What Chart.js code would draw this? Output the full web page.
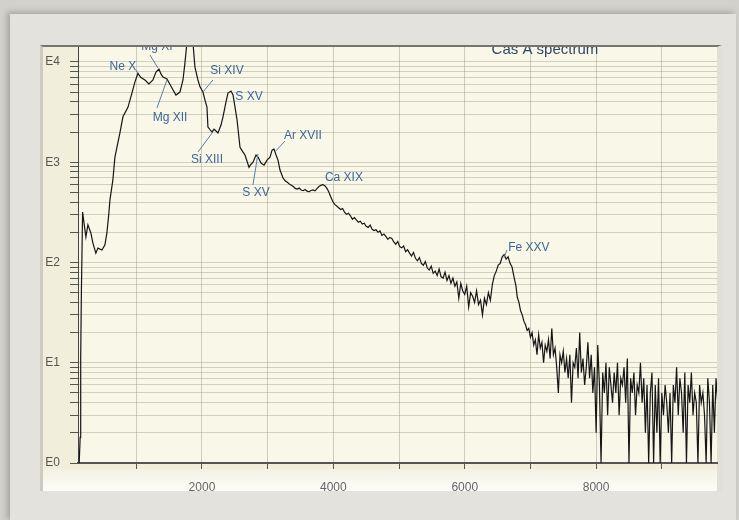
<!DOCTYPE html>
<html>
<head>
<meta charset="utf-8">
<script src="https://cdn.jsdelivr.net/npm/chart.js@4/dist/chart.umd.min.js"></script>
<style>
html,body{margin:0;padding:0;width:739px;height:520px;overflow:hidden;background:#d3d1cb;}
#outer{position:absolute;left:10px;top:14px;width:726px;height:508px;background:#e4e2dc;box-shadow:-3px -2px 6px rgba(0,0,0,0.22);}
#panel{position:absolute;left:40px;top:45px;width:682px;height:446px;box-sizing:border-box;background:#f1efdc;border-top:2px solid #76746d;border-left:3px solid #cdcbc0;border-right:5px solid #e2e0d6;}
#bottom{position:absolute;left:43px;top:469px;width:674px;height:22px;background:linear-gradient(#f3f1e2,#fdfdf9);}
#c{position:absolute;left:0;top:0;}
</style>
</head>
<body>
<div id="outer"></div>
<div id="panel"></div>
<div id="bottom"></div>
<canvas id="c" width="739" height="520"></canvas>
<script>
// ---- Data (energy in eV, counts) ----
// Low-energy band, read point by point: [energy, counts]
const lowBand = [
  [131,1],[146,1.8],[154,11],[165,53],[183,318],[203,253],[233,180],[264,237],[309,197],[340,156],
  [385,124],[416,139],[477,133],[522,149],[553,197],[583,311],[599,419],[644,667],[675,1125],[751,1960],
  [797,2840],[873,3530],[934,4880],[979,6300],[1025,7700],[1071,7000],[1132,6610],[1193,6030],[1254,6610],[1300,7940],
  [1345,8510],[1376,7600],[1406,7080],[1467,6750],[1543,5500],[1604,4680],[1665,5010],[1711,6610],[1741,9800],[1771,15500],
  [1820,30000],[1863,15500],[1893,8900],[1939,6610],[1970,5650],[2015,5010],[2046,4170],[2076,3540],[2091,2240],[2153,2000],
  [2183,2140],[2214,2050],[2244,1960],[2290,2350],[2320,2840],[2366,3990],[2396,4900],[2442,5130],[2473,4680],[2503,3540],
  [2534,2640],[2579,1410],[2625,1260],[2655,1180],[2716,890],[2747,955],[2777,1000],[2823,1180],[2853,1125],[2899,980],
  [2945,935],[2990,1050],[3036,1125],[3067,1320],[3097,1350],[3128,1180],[3157,1050],[3188,835],[3234,695],[3270,650]
];

// Mid band: channels of 30 eV starting at 3300 eV
const midStart = 3300;
const midStep = 30;
const midCounts = [
  630,605,590,572,548,540,552,528,520,534,
  515,508,522,530,518,545,572,588,596,584,
  552,508,452,408,380,366,352,338,345,318,
  302,310,292,270,280,266,252,258,242,246,
  230,224,236,214,208,212,200,206,186,192,
  182,170,178,174,160,152,162,144,140,146,
  128,134,124,116,126,110,104,112,98,94,
  102,88,84,92,78,82,74,86,72,70,
  80,66,74,62,70,58,64,44,62,52,
  48,58,36,50,46,40,52,38,42,30,
  44,38,50,42,60,74,82,94,98,114,
  120,108,114,98,90,72,58
];

// High band: channels of 25 eV starting at 6800 eV
const highStart = 6800;
const highStep = 25;
const highCounts = [
  45,40,33,30,26,24,21,22,18,20,
  15,17,12,19,14,16,10,15,13,17,
  11,22,12,14,9,5,12,10,13,8,
  11,7,12,4,10,9,14,7,20,8,
  11,6,9,16,7,12,5,9,2,15,
  6,1,8,5,10,3,9,6,4,8,
  5,10,3,7,6,9,4,11,1,7,
  5,8,3,6,5,10,4,7,2,6,
  1,5,8,1,6,2,7,1,5,3,
  6,4,2,5,1,6,4,9,3,7,
  5,2,8,1,6,4,8,3,5,4,
  1,6,4,5,3,1,7,4,1,6,
  2,7,4
];

// Axis ticks
const xTickValues = [1000,2000,3000,4000,5000,6000,7000,8000,9000];
const xTickLabels = [2000,4000,6000,8000];
const yDecades = [1,10,100,1000,10000];
const yDecadeLabels = ['E0','E1','E2','E3','E4'];
const yMinorMultiples = [1,2,3,4,5,6,7,8,9];

// Line identifications: text placed at [energy, counts]
const lineLabels = [
  {text:'Ne X', e:797, c:8913},
  {text:'Mg XI', e:1315, c:14280},
  {text:'Mg XII', e:1513, c:2762},
  {text:'Si XIV', e:2381, c:8130},
  {text:'S XV', e:2716, c:4477},
  {text:'Si XIII', e:2076, c:1052},
  {text:'S XV', e:2822, c:493},
  {text:'Ar XVII', e:3537, c:1828},
  {text:'Ca XIX', e:4161, c:697},
  {text:'Fe XXV', e:6977, c:139.6}
];
// Leader lines: [e1, c1, e2, c2]
const leaders = [
  [995,8320,1026,7770],
  [1208,11750,1330,8710],
  [1315,3475,1467,6610],
  [2167,6610,2015,5020],
  [1939,1265,2167,2004],
  [2776,593,2852,1208],
  [3263,1629,3126,1295],
  [6642,133,6597,111]
];
const chartTitle = {text:'Cas A spectrum', e:7221, c:13330};

// ---- Build dataset ----
const points = [];
lowBand.forEach(p => points.push({x:p[0], y:p[1]}));
midCounts.forEach((c,i) => points.push({x:midStart + i*midStep, y:c}));
highCounts.forEach((c,i) => points.push({x:highStart + i*highStep, y:c}));

const yTickValues = [];
yDecades.forEach(d => yMinorMultiples.forEach(m => yTickValues.push(d*m)));

const FONT = '"Liberation Sans", Arial, sans-serif';

const areaBg = {
  id:'areaBg',
  beforeDraw(chart){
    const {ctx, chartArea:a} = chart;
    ctx.save();
    ctx.fillStyle = '#f9f7e7';
    ctx.fillRect(a.left, a.top, a.right-a.left, a.bottom-a.top);
    ctx.restore();
  }
};

const annotations = {
  id:'annotations',
  afterDatasetsDraw(chart){
    const {ctx, chartArea:a, scales:{x, y}} = chart;
    ctx.save();
    ctx.beginPath();
    ctx.rect(a.left, a.top, a.right-a.left, a.bottom-a.top);
    ctx.clip();
    ctx.strokeStyle = '#5a7ea8';
    ctx.lineWidth = 1;
    leaders.forEach(l => {
      ctx.beginPath();
      ctx.moveTo(x.getPixelForValue(l[0]), y.getPixelForValue(l[1]));
      ctx.lineTo(x.getPixelForValue(l[2]), y.getPixelForValue(l[3]));
      ctx.stroke();
    });
    ctx.fillStyle = '#3d6797';
    ctx.font = '12px ' + FONT;
    ctx.textAlign = 'center';
    ctx.textBaseline = 'middle';
    lineLabels.forEach(l => {
      ctx.fillText(l.text, x.getPixelForValue(l.e), y.getPixelForValue(l.c));
    });
    ctx.fillStyle = '#2f4868';
    ctx.font = '15px ' + FONT;
    ctx.fillText(chartTitle.text, x.getPixelForValue(chartTitle.e), y.getPixelForValue(chartTitle.c));
    ctx.restore();
  }
};

new Chart(document.getElementById('c'), {
  type:'line',
  data:{datasets:[{
    data:points,
    borderColor:'#161616',
    borderWidth:1.2,
    pointRadius:0,
    tension:0,
    fill:false
  }]},
  options:{
    responsive:false,
    animation:false,
    devicePixelRatio:1,
    parsing:false,
    normalized:true,
    layout:{padding:{left:0, right:22, top:47, bottom:0}},
    plugins:{legend:{display:false}, tooltip:{enabled:false}, title:{display:false}},
    scales:{
      x:{
        type:'linear', min:113, max:9840,
        afterBuildTicks:s => { s.ticks = xTickValues.map(v => ({value:v})); },
        afterFit:s => { s.height = 57; },
        grid:{color:'rgba(150,148,128,0.45)', tickColor:'#555', tickLength:6},
        border:{color:'#555', width:2},
        ticks:{color:'#666', font:{family:FONT, size:12}, padding:11, maxRotation:0, autoSkip:false,
          callback:v => xTickLabels.includes(v) ? String(v) : ''}
      },
      y:{
        type:'logarithmic', min:1, max:14100,
        afterBuildTicks:s => { s.ticks = yTickValues.filter(v => v <= s.max).map(v => ({value:v})); },
        afterFit:s => { s.width = 78; },
        grid:{color:'rgba(160,158,138,0.45)', tickColor:'#555', tickLength:8},
        border:{color:'#444', width:1},
        ticks:{color:'#555', font:{family:FONT, size:12}, padding:10, autoSkip:false,
          callback:v => { const i = yDecades.indexOf(v); return i >= 0 ? yDecadeLabels[i] : ''; }}
      }
    }
  },
  plugins:[areaBg, annotations]
});
</script>
</body>
</html>
